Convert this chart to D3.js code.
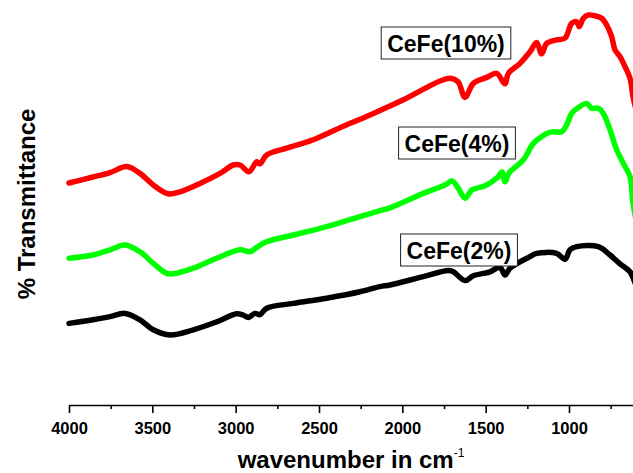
<!DOCTYPE html>
<html>
<head>
<meta charset="utf-8">
<script src="https://cdn.jsdelivr.net/npm/d3@7"></script>
<style>
  html, body { margin: 0; padding: 0; background: #fff; }
  svg { display: block; font-family: "Liberation Sans", Arial, Helvetica, sans-serif; }
</style>
</head>
<body>
<svg id="chart" width="633" height="473"></svg>
<script>
// FTIR spectra of Ce/Fe samples: wavenumber (cm-1) vs. relative transmittance (offset traces)
const seriesNames = ["CeFe(10%)", "CeFe(4%)", "CeFe(2%)"];

const wavenumber10 = [4000, 3856, 3754, 3654, 3574, 3494, 3404, 3334, 3214, 3094, 3014, 2974, 2920, 2874, 2854, 2814, 2694, 2534, 2374, 2194, 1994, 1774, 1714, 1666, 1624, 1574, 1494, 1434, 1384, 1364, 1294, 1234, 1194, 1164, 1134, 1074, 1024, 984, 954, 938, 914, 884, 844, 804, 774, 744, 724, 694, 664, 634, 616, 598];
const transmittance10 = [55.5, 57.0, 58.1, 59.6, 57.9, 55.0, 52.8, 53.3, 55.4, 57.9, 60.0, 60.0, 58.3, 60.8, 60.3, 62.5, 64.2, 66.3, 69.3, 72.5, 76.3, 81.0, 81.7, 80.8, 76.9, 80.4, 81.9, 82.9, 80.3, 82.9, 85.4, 88.3, 90.6, 87.8, 90.4, 91.3, 91.7, 95.4, 95.8, 94.6, 96.7, 97.5, 97.3, 96.7, 95.0, 92.1, 88.8, 87.1, 84.6, 81.7, 77.1, 73.8];

const wavenumber4 = [4000, 3856, 3754, 3664, 3574, 3494, 3414, 3374, 3254, 3114, 2974, 2914, 2874, 2814, 2654, 2454, 2254, 2134, 2074, 1874, 1744, 1702, 1666, 1624, 1582, 1504, 1426, 1402, 1384, 1360, 1274, 1214, 1174, 1134, 1094, 1044, 1014, 984, 946, 894, 864, 824, 794, 754, 714, 664, 634, 616, 598];
const transmittance4 = [36.7, 37.5, 38.8, 40.0, 38.3, 35.4, 32.9, 32.8, 34.2, 36.7, 38.8, 38.3, 39.4, 40.8, 42.5, 44.6, 47.1, 48.6, 49.3, 52.9, 55.0, 56.0, 54.3, 51.7, 53.8, 54.8, 57.0, 58.3, 55.8, 58.0, 61.3, 65.4, 66.8, 67.9, 68.3, 68.3, 70.0, 72.9, 74.3, 75.4, 74.2, 74.2, 72.9, 68.8, 63.8, 59.6, 57.1, 50.4, 46.3];

const wavenumber2 = [4000, 3856, 3754, 3664, 3574, 3494, 3394, 3254, 3114, 2994, 2956, 2924, 2884, 2854, 2814, 2654, 2454, 2254, 2134, 2074, 1874, 1724, 1694, 1624, 1574, 1474, 1414, 1384, 1354, 1234, 1194, 1074, 1024, 994, 954, 824, 754, 694, 634, 616, 598];
const transmittance2 = [20.4, 21.3, 22.1, 22.9, 21.3, 18.8, 17.5, 18.8, 20.8, 22.8, 22.5, 21.9, 22.9, 22.6, 24.2, 25.4, 26.7, 28.3, 29.6, 30.0, 32.1, 33.6, 33.3, 31.1, 32.3, 33.3, 34.4, 32.5, 34.2, 37.1, 37.9, 37.9, 36.4, 38.8, 39.6, 39.6, 37.5, 35.3, 33.3, 31.8, 30.0];

const seriesColors = ["#ff0000", "#00ff00", "#000000"];

// label anchor for each trace, in data units (wavenumber, transmittance)
const labelWavenumber = [1738, 1672, 1660];
const labelTransmittance = [90.5, 65.5, 38.75];

const majorTicks = [4000, 3500, 3000, 2500, 2000, 1500, 1000];
const minorTicks = [3750, 3250, 2750, 2250, 1750, 1250, 750];

const xTitle = "wavenumber in cm";
const xTitleSup = "-1";
const yTitle = "% Transmittance";

const svg = d3.select("#chart");

const x = d3.scaleLinear().domain([4000, 600]).range([69, 69 + 3400 / 6]);
const y = d3.scaleLinear().domain([0, 100]).range([405, 5]);

const series = [
  { name: seriesNames[0], color: seriesColors[0], w: wavenumber10, t: transmittance10 },
  { name: seriesNames[1], color: seriesColors[1], w: wavenumber4, t: transmittance4 },
  { name: seriesNames[2], color: seriesColors[2], w: wavenumber2, t: transmittance2 }
];

const line = d3.line()
  .x(d => x(d[0]))
  .y(d => y(d[1]))
  .curve(d3.curveCatmullRom.alpha(0.5));

svg.append("g").selectAll("path")
  .data(series)
  .join("path")
  .attr("d", s => line(s.w.map((w, i) => [w, s.t[i]])))
  .attr("fill", "none")
  .attr("stroke", s => s.color)
  .attr("stroke-width", 5.5)
  .attr("stroke-linejoin", "round")
  .attr("stroke-linecap", "round");

// x axis: major ticks with labels, minor ticks without
const axisG = svg.append("g").attr("transform", `translate(0,${y(0)})`);
axisG.call(d3.axisBottom(x).tickValues(majorTicks).tickSize(8).tickSizeOuter(0).tickPadding(9).tickFormat(d3.format("d")));
axisG.select(".domain").attr("stroke", "#000").attr("stroke-width", 1.6);
axisG.selectAll(".tick line").attr("stroke", "#000").attr("stroke-width", 1.6);
axisG.selectAll(".tick text")
  .attr("fill", "#000")
  .style("font-family", "'Liberation Sans', Arial, sans-serif")
  .style("font-size", "16.5px")
  .style("font-weight", "bold");

const minorG = svg.append("g").attr("transform", `translate(0,${y(0)})`);
minorG.call(d3.axisBottom(x).tickValues(minorTicks).tickSize(4).tickSizeOuter(0).tickFormat(""));
minorG.select(".domain").remove();
minorG.selectAll(".tick line").attr("stroke", "#000").attr("stroke-width", 1.6);

// axis titles
const xt = svg.append("text")
  .attr("x", (x.range()[0] + 633) / 2)
  .attr("y", 468)
  .attr("text-anchor", "middle")
  .style("font-size", "24px")
  .style("font-weight", "bold")
  .attr("fill", "#000");
xt.append("tspan").text(xTitle);
xt.append("tspan").attr("dy", -11).style("font-size", "12px").style("font-weight", "normal").text(xTitleSup);

svg.append("text")
  .attr("transform", "translate(35,204) rotate(-90)")
  .attr("text-anchor", "middle")
  .style("font-size", "24px")
  .style("font-weight", "bold")
  .attr("fill", "#000")
  .text(yTitle);

// boxed trace labels
const labels = svg.append("g").selectAll("g")
  .data(series.map((s, i) => ({ name: s.name, cx: x(labelWavenumber[i]), cy: y(labelTransmittance[i]) })))
  .join("g");

labels.append("text")
  .attr("x", d => d.cx)
  .attr("y", d => d.cy + 8.5)
  .attr("text-anchor", "middle")
  .style("font-size", "23px")
  .style("font-weight", "bold")
  .attr("fill", "#000")
  .text(d => d.name);

labels.each(function (d) {
  const g = d3.select(this);
  const bb = g.select("text").node().getBBox();
  g.insert("rect", "text")
    .attr("x", bb.x - 6)
    .attr("y", d.cy - 16)
    .attr("width", bb.width + 12)
    .attr("height", 32)
    .attr("fill", "#fff")
    .attr("stroke", "#222")
    .attr("stroke-width", 1);
});
</script>
</body>
</html>
